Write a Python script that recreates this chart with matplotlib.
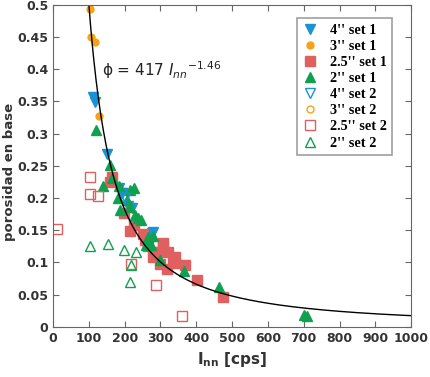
import matplotlib.pyplot as plt
import numpy as np

# 4'' set 1 (filled blue down triangles)
x4_1 = [112, 117, 151, 184, 192, 193, 209, 220, 265, 277, 279]
y4_1 = [0.357, 0.349, 0.269, 0.216, 0.208, 0.208, 0.188, 0.185, 0.141, 0.146, 0.148]
# 3'' set 1 (filled orange circles)
x3_1 = [103, 106, 117, 128]
y3_1 = [0.494, 0.450, 0.443, 0.328]
# 2.5'' set 1 (filled red squares)
x25_1 = [164, 159, 198, 215, 227, 250, 257, 264, 280, 288, 294, 299, 306, 307,
         318, 321, 336, 341, 341, 369, 401, 475]
y25_1 = [0.233, 0.225, 0.177, 0.149, 0.158, 0.144, 0.135, 0.125, 0.109, 0.117, 0.117,
         0.097, 0.131, 0.126, 0.090, 0.117, 0.104, 0.109, 0.099, 0.096, 0.072, 0.047]
# 2'' set 1 (filled green triangles)
x2_1 = [120, 159, 165, 140, 184, 182, 187, 215, 226, 207, 215, 229, 237, 246,
        265, 260, 274, 279, 299, 366, 464, 700, 710]
y2_1 = [0.306, 0.252, 0.231, 0.219, 0.219, 0.200, 0.182, 0.213, 0.216, 0.197, 0.186,
        0.174, 0.169, 0.166, 0.140, 0.127, 0.127, 0.141, 0.104, 0.087, 0.062, 0.019, 0.017]
# 4'' set 2 (open blue down triangles)
x4_2 = [200]
y4_2 = [0.200]
# 3'' set 2 (open orange circles)
x3_2 = []
y3_2 = []
# 2.5'' set 2 (open red squares)
x25_2 = [103, 103, 127, 12, 218, 288, 359]
y25_2 = [0.232, 0.206, 0.204, 0.152, 0.097, 0.065, 0.017]
# 2'' set 2 (open green triangles)
x2_2 = [103, 153, 198, 231, 218, 215]
y2_2 = [0.125, 0.128, 0.120, 0.116, 0.096, 0.070]

fit_a = 417
fit_b = -1.46

blue = '#1a93d6'
orange = '#f5a31a'
red = '#e06060'
green = '#0fa050'

fig = plt.figure(figsize=(4.31, 3.77), dpi=100)
ax = fig.add_axes([0.123, 0.133, 0.831, 0.854])

ax.plot(x4_1, y4_1, 'v', color=blue, ms=7, ls='none', label="4'' set 1")
ax.plot(x3_1, y3_1, 'o', color=orange, ms=5, ls='none', label="3'' set 1")
ax.plot(x25_1, y25_1, 's', color=red, ms=6.5, ls='none', label="2.5'' set 1")
ax.plot(x2_1, y2_1, '^', color=green, ms=7, ls='none', label="2'' set 1")
ax.plot(x4_2, y4_2, 'v', mfc='none', mec=blue, ms=7, ls='none', label="4'' set 2")
ax.plot(x3_2, y3_2, 'o', mfc='none', mec=orange, ms=5, ls='none', label="3'' set 2")
ax.plot(x25_2, y25_2, 's', mfc='none', mec=red, ms=6.5, ls='none', label="2.5'' set 2")
ax.plot(x2_2, y2_2, '^', mfc='none', mec=green, ms=7, ls='none', label="2'' set 2")

xf = np.linspace(100, 1000, 400)
ax.plot(xf, fit_a * xf ** fit_b, color='black', lw=1)

ax.text(138, 0.39, 'ϕ = 417 $I_{nn}$$^{\\mathrm{-1.46}}$', fontsize=11, color='#222222')

ax.set_xlim(0, 1000)
ax.set_ylim(0, 0.5)
ax.set_xticks(np.arange(0, 1001, 100))
ax.set_yticks(np.arange(0, 0.501, 0.05))
ax.set_yticklabels(['0', '0.05', '0.1', '0.15', '0.2', '0.25', '0.3', '0.35', '0.4', '0.45', '0.5'])
ax.tick_params(direction='in', top=True, right=True, color='#666666', length=4,
               labelsize=9, labelcolor='#333333')
for lab in ax.get_xticklabels() + ax.get_yticklabels():
    lab.set_fontweight('bold')
for sp in ax.spines.values():
    sp.set_color('#666666')

ax.set_xlabel(r'$\mathbf{I_{nn}}$ [cps]', fontsize=11, fontweight='bold', color='#333333', labelpad=4)
ax.set_ylabel('porosidad en base', fontsize=9.5, fontweight='bold', color='#333333')
ax.yaxis.set_label_coords(-0.104, 0.48)

leg = ax.legend(loc='upper right', bbox_to_anchor=(0.947, 0.96), borderaxespad=0,
                handlelength=1.0, handletextpad=0.9, labelspacing=0.22, borderpad=0.4,
                fancybox=False,
                prop={'family': 'Liberation Serif', 'weight': 'bold', 'size': 10.3})
leg.get_frame().set_edgecolor('#888888')
leg.get_frame().set_linewidth(1.2)

fig.savefig('out.png', dpi=100)
